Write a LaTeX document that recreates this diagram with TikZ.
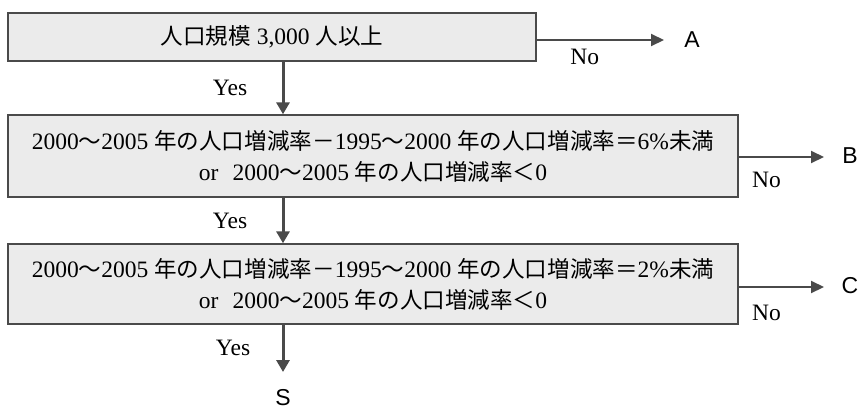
\documentclass[tikz,border=0pt]{standalone}
\usepackage{fontspec}
\setmainfont{Liberation Serif}
\newfontfamily\jpfont[Scale=0.96]{Noto Sans CJK JP}
\newfontfamily\letfont{Liberation Sans}
\newcommand{\jp}[1]{{\jpfont #1}}
\usepackage{tikz}
\usetikzlibrary{arrows.meta,positioning,calc}
\definecolor{boxgray}{HTML}{EBEBEB}
\definecolor{linegray}{HTML}{4A4A4A}

\begin{document}
\begin{tikzpicture}[
					x = 1pt, y = -1pt,
					every node/.style = {font = \fontsize{23.5}{31}\selectfont},
					qbox/.style = {draw = linegray, line width = 1.4pt, fill = boxgray, align = center, inner sep = 0pt},
					yesarrow/.style = {draw = linegray, line width = 3pt, -{Triangle[length=12pt,width=13pt]}},
					noarrow/.style = {draw = linegray, line width = 2pt, -{Triangle[length=13pt,width=12pt]}},
					outcome/.style = {font = \fontsize{23}{26}\letfont}
					]

					\useasboundingbox (0,0) rectangle (864,410);

					% conditions
					\node[qbox, minimum width = 528pt, minimum height = 48pt] (q1) at (272,37) {\jp{人口規模} 3,000 \jp{人以上}};
					\node[qbox, minimum width = 730pt, minimum height = 82pt] (q2) at (373,156)
						{2000\jp{～}2005 \jp{年の人口増減率－}1995\jp{～}2000 \jp{年の人口増減率＝}6\%\jp{未満}\\
						 or\hspace{0.6em}2000\jp{～}2005 \jp{年の人口増減率＜}0};
					\node[qbox, minimum width = 730pt, minimum height = 80pt] (q3) at (373,284)
						{2000\jp{～}2005 \jp{年の人口増減率－}1995\jp{～}2000 \jp{年の人口増減率＝}2\%\jp{未満}\\
						 or\hspace{0.6em}2000\jp{～}2005 \jp{年の人口増減率＜}0};

					% results
					\node[outcome] (A) at (692,40) {A};
					\node[outcome] (B) at (850,156) {B};
					\node[outcome] (C) at (850,286) {C};
					\node[outcome] (S) at (283,398) {S};
					\coordinate (send) at (283,372);

					\draw[yesarrow] (q1.south -| send) -- (q2.north -| send) node[midway, left = 31pt]{Yes};
					\draw[yesarrow] (q2.south -| send) -- (q3.north -| send) node[midway, left = 31pt]{Yes};
					\draw[yesarrow] (q3.south -| send) -- (send) node[midway, left = 28pt]{Yes};

					\draw[noarrow, shorten > = 28pt] ([yshift=-3pt]q1.east) -- ([yshift=-3pt]q1.east -| A.center) node[pos = 0.31, below = 5pt]{No};
					\draw[noarrow, shorten > = 26pt] ([yshift=-1pt]q2.east) -- ([yshift=-1pt]q2.east -| B.center) node[pos = 0.25, below = 11pt]{No};
					\draw[noarrow, shorten > = 26pt] ([yshift=-3pt]q3.east) -- ([yshift=-3pt]q3.east -| C.center) node[pos = 0.25, below = 14pt]{No};

				\end{tikzpicture}
\end{document}
